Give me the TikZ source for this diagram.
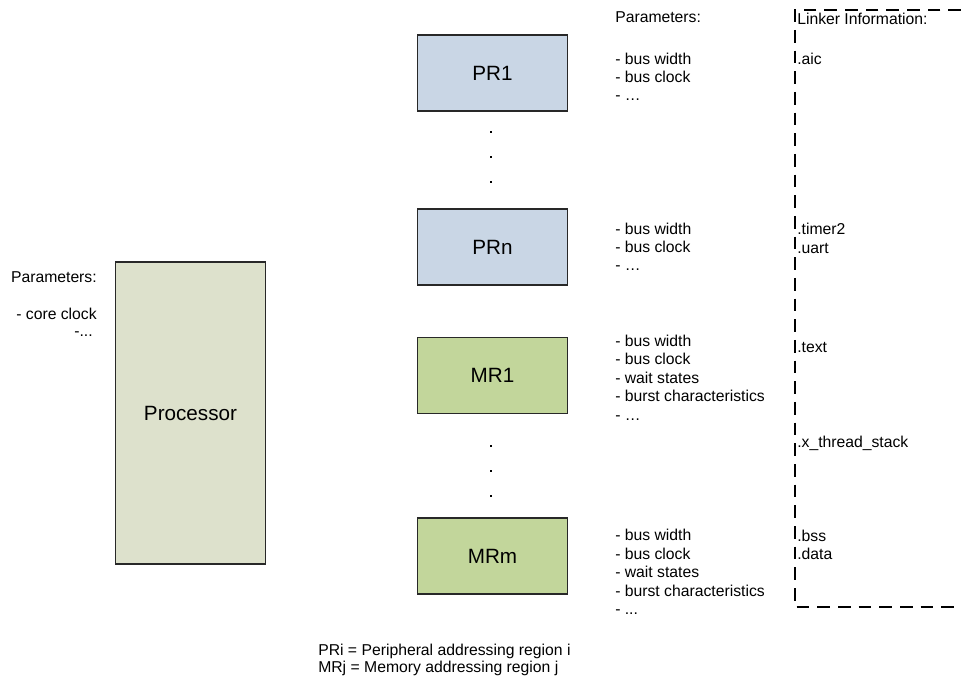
\documentclass[tikz,border=0pt]{standalone}
\usepackage{fontspec}
\setmainfont{Liberation Sans}
\definecolor{prfill}{RGB}{201,214,229}
\definecolor{mrfill}{RGB}{194,214,155}
\definecolor{procfill}{RGB}{221,225,204}
\definecolor{edge}{RGB}{40,40,40}
\begin{document}
\begin{tikzpicture}[x=0.75pt,y=-0.75pt,
  region/.style={draw=edge, line width=0.8pt, minimum width=113pt, minimum height=57pt,
    inner sep=0pt, font=\fontsize{15.5pt}{18pt}\selectfont},
  txt/.style={anchor=base west, inner sep=0pt, font=\fontsize{11.8pt}{14pt}\selectfont},
  rtxt/.style={anchor=base east, inner sep=0pt, font=\fontsize{11.8pt}{14pt}\selectfont},
  dotsq/.style={fill=black, minimum size=2.2pt, inner sep=0pt},
  linker/.style={line width=1.5pt, dash pattern=on 9.5pt off 6pt}]
\useasboundingbox (0,0) rectangle (961,684);

% region boxes
\node[region, fill=prfill] (pr1) at (492.5,73) {PR1};
\node[region, fill=prfill] (prn) at (492.5,247) {PRn};
\node[region, fill=mrfill] (mr1) at (492.5,375.5) {MR1};
\node[region, fill=mrfill] (mrm) at (492.5,556) {MRm};
\node[region, fill=procfill, minimum height=226.5pt] (proc) at (190.5,413) {Processor};

% dots
\node[dotsq] (pd1) at (491,132) {};
\node[dotsq] (pd2) at (491,157) {};
\node[dotsq] (pd3) at (491,182) {};
\node[dotsq] (md1) at (491,446) {};
\node[dotsq] (md2) at (491,471) {};
\node[dotsq] (md3) at (491,496) {};

% processor parameters
\node[rtxt] (pp0) at (97,283) {Parameters:};
\node[rtxt] (pp1) at (97,320) {- core clock};
\node[rtxt] (pp2) at (93,337) {-...};

% PR1 parameters
\node[txt] (a0) at (615,22.5) {Parameters:};
\node[txt] (a1) at (615,64.5) {- bus width};
\node[txt] (a2) at (615,82.5) {- bus clock};
\node[txt] (a3) at (615,100.5) {- \dots};

% PRn parameters
\node[txt] (b1) at (615,234.5) {- bus width};
\node[txt] (b2) at (615,252.5) {- bus clock};
\node[txt] (b3) at (615,271) {- \dots};

% MR1 parameters
\node[txt] (c1) at (615,346.5) {- bus width};
\node[txt] (c2) at (615,365) {- bus clock};
\node[txt] (c3) at (615,383.5) {- wait states};
\node[txt] (c4) at (615,402) {- burst characteristics};
\node[txt] (c5) at (615,420.5) {- \dots};

% MRm parameters
\node[txt] (e1) at (615,540.5) {- bus width};
\node[txt] (e2) at (615,559) {- bus clock};
\node[txt] (e3) at (615,577.5) {- wait states};
\node[txt] (e4) at (615,596) {- burst characteristics};
\node[txt] (e5) at (615,614.5) {- ...};

% linker information
\draw[linker] (961,10) -- (795,10) -- (795,607) -- (961,607);
\node[txt] (l0) at (797,24.5) {Linker Information:};
\node[txt] (l1) at (797,64.5) {.aic};
\node[txt] (l2) at (797,234.5) {.timer2};
\node[txt] (l3) at (797,253.5) {.uart};
\node[txt] (l4) at (797,352.5) {.text};
\node[txt] (l5) at (797,447.5) {.x\_thread\_stack};
\node[txt] (l6) at (797,541.5) {.bss};
\node[txt] (l7) at (797,559.5) {.data};

% legend
\node[txt] (g1) at (318,655.5) {PRi = Peripheral addressing region i};
\node[txt] (g2) at (318,672.5) {MRj = Memory addressing region j};
\end{tikzpicture}
\end{document}
